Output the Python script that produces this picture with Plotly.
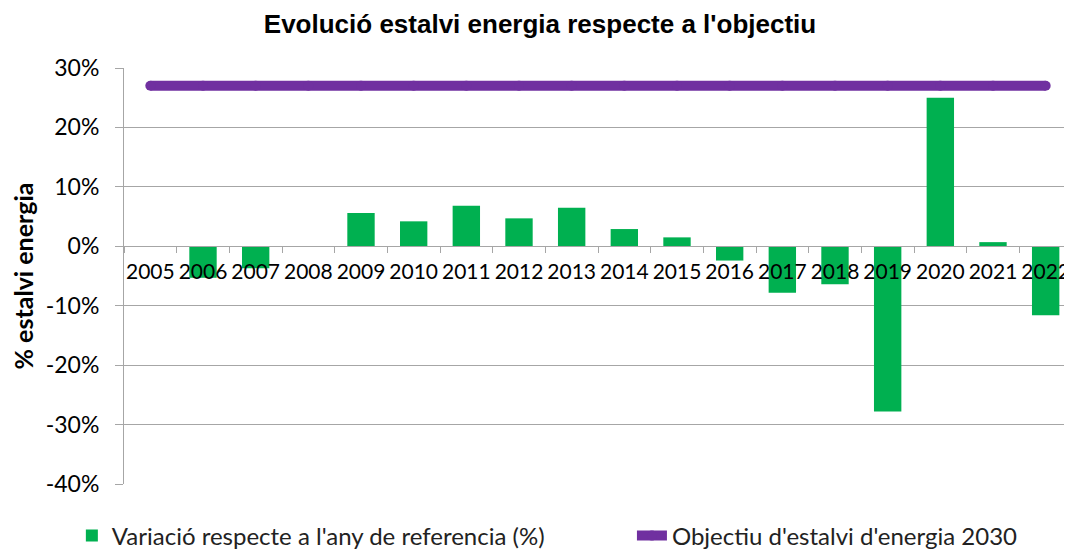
import plotly.graph_objects as go

years = ["2005", "2006", "2007", "2008", "2009", "2010", "2011", "2012", "2013",
         "2014", "2015", "2016", "2017", "2018", "2019", "2020", "2021", "2022"]
variacio = [0.0, -0.053, -0.037, -0.001, 0.056, 0.042, 0.068, 0.047, 0.065,
            0.029, 0.015, -0.024, -0.078, -0.064, -0.278, 0.250, 0.007, -0.116]
objectiu = [0.27] * len(years)
ytick_vals = [0.3, 0.2, 0.1, 0.0, -0.1, -0.2, -0.3, -0.4]
ytick_text = ["30%", "20%", "10%", "0%", "-10%", "-20%", "-30%", "-40%"]

GREEN = "#00B050"
PURPLE = "#7030A0"
GRID = "#A6A6A6"
FONT = "Lato"

fig = go.Figure()
fig.add_trace(go.Bar(
    x=years, y=variacio, name="Variació respecte a l'any de referencia (%)",
    marker=dict(color=GREEN, line=dict(width=0)), legend="legend",
))
fig.add_trace(go.Scatter(
    x=years, y=objectiu, mode="lines+markers", name="Objectiu d'estalvi d'energia 2030",
    line=dict(color=PURPLE, width=10),
    marker=dict(color=PURPLE, size=10, line=dict(width=0)),
    legend="legend2",
))

legend_font = dict(family=FONT, size=24, color="#222222")
fig.update_layout(
    width=1064, height=543,
    margin=dict(l=116, r=0, t=60, b=67, autoexpand=False),
    plot_bgcolor="white", paper_bgcolor="white",
    bargap=0.48,
    title=dict(text="<b>Evolució estalvi energia respecte a l'objectiu</b>",
               x=0.5, xref="container", xanchor="center", y=0.971, yanchor="middle",
               font=dict(family="Liberation Sans, Arial", size=26, color="black")),
    font=dict(family=FONT, color="black"),
    showlegend=True,
    legend=dict(orientation="h", x=-0.055, xanchor="left", y=-0.125, yanchor="middle",
                font=legend_font, bgcolor="rgba(0,0,0,0)"),
    legend2=dict(orientation="h", x=0.5358, xanchor="left", y=-0.125, yanchor="middle",
                 font=legend_font, bgcolor="rgba(0,0,0,0)"),
    xaxis=dict(
        type="category", anchor="free", position=4/7, automargin=False,
        showline=True, linecolor=GRID, linewidth=1,
        ticks="outside", ticklen=6, tickcolor=GRID, tickson="boundaries",
        tickfont=dict(family=FONT, size=21, color="black"), tickangle=0,
        ticklabelstandoff=7,
        showgrid=False, range=[-0.5, 17.5], fixedrange=True,
    ),
    yaxis=dict(
        range=[-0.4, 0.3], tickvals=ytick_vals, ticktext=ytick_text, automargin=False,
        showgrid=True, gridcolor=GRID, gridwidth=1,
        zeroline=True, zerolinecolor=GRID, zerolinewidth=1,
        showline=True, linecolor=GRID, linewidth=1,
        ticks="outside", ticklen=8, tickcolor=GRID,
        ticklabelstandoff=11,
        tickfont=dict(family=FONT, size=23, color="black"),
        title=dict(text="<b>% estalvi energia</b>", standoff=14,
                   font=dict(family=FONT, size=25, color="black")),
    ),
)

fig.write_html("out.html")
